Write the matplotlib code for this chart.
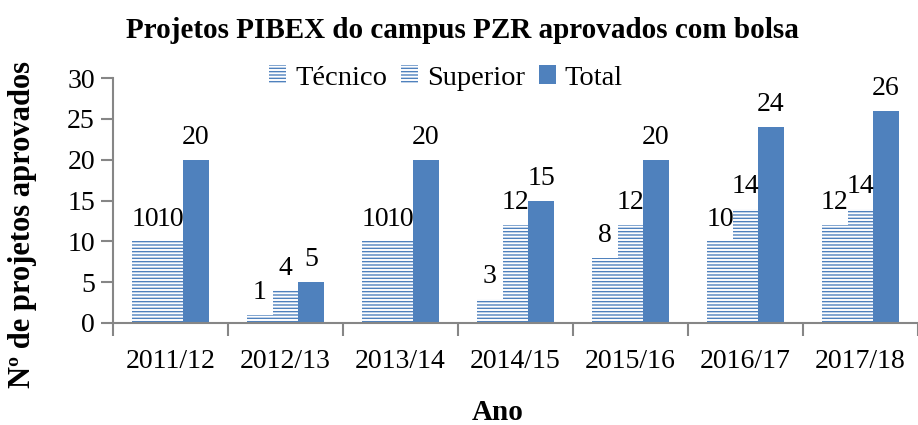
import numpy as np
import matplotlib
matplotlib.use("Agg")
import matplotlib.pyplot as plt
from matplotlib.patches import Patch

# dados do grafico
anos = ['2011/12', '2012/13', '2013/14', '2014/15', '2015/16', '2016/17', '2017/18']
tecnico = [10, 1, 10, 3, 8, 10, 12]
superior = [10, 4, 10, 12, 12, 14, 14]
total = [20, 5, 20, 15, 20, 24, 26]

azul = '#4F81BD'
cinza = '#868686'

plt.rcParams['font.family'] = ['Liberation Serif', 'DejaVu Serif']
plt.rcParams['hatch.linewidth'] = 1.0

fig = plt.figure(figsize=(9.18, 4.25), dpi=100)
ax = fig.add_axes([113/918, 102/425, 1 - 113/918, 245/425])

x = np.arange(len(anos))
w = 0.222

b1 = ax.bar(x - w, tecnico, w, facecolor='white', edgecolor=azul, hatch='-----', linewidth=0)
b2 = ax.bar(x, superior, w, facecolor='white', edgecolor=azul, hatch='-----', linewidth=0)
b3 = ax.bar(x + w, total, w, color=azul, linewidth=0)

fs = 20
for bars in (b1, b2, b3):
    ax.bar_label(bars, padding=7, fontsize=fs)

ax.set_ylim(0, 30)
ax.set_yticks(range(0, 31, 5))
ax.set_xlim(-0.5, -0.5 + 805/117)
ax.set_xticks(x)
ax.set_xticklabels(anos)
ax.set_xticks(np.arange(-0.5, 7, 1), minor=True)
ax.tick_params(axis='x', which='major', length=0, pad=19, labelsize=fs)
ax.tick_params(axis='x', which='minor', length=9, width=1.5, color=cinza)
ax.tick_params(axis='y', length=9, width=1.5, color=cinza, labelsize=fs, pad=4)

for s in ['top', 'right']:
    ax.spines[s].set_visible(False)
for s in ['left', 'bottom']:
    ax.spines[s].set_color(cinza)
    ax.spines[s].set_linewidth(1.5)

handles = [Patch(facecolor='white', edgecolor=azul, hatch='-----', linewidth=0),
           Patch(facecolor='white', edgecolor=azul, hatch='-----', linewidth=0),
           Patch(facecolor=azul, linewidth=0)]
ax.legend(handles, ['Técnico', 'Superior', 'Total'], loc='center', bbox_to_anchor=(446/918, 1 - 78/425),
          bbox_transform=fig.transFigure, ncol=3, frameon=False, fontsize=20.5,
          handlelength=0.6, handleheight=0.6, handletextpad=0.3, columnspacing=0.5)

fig.text(462/918, 1 - 30/425, 'Projetos PIBEX do campus PZR aprovados com bolsa',
         ha='center', va='center', fontsize=21, fontweight='bold')
fig.text(23/918, 1 - 224/425, 'Nº de projetos aprovados', rotation=90,
         ha='center', va='center', fontsize=22, fontweight='bold')
fig.text(498/918, 1 - 412/425, 'Ano', ha='center', va='center', fontsize=21, fontweight='bold')

fig.savefig('out.png', dpi=100)
